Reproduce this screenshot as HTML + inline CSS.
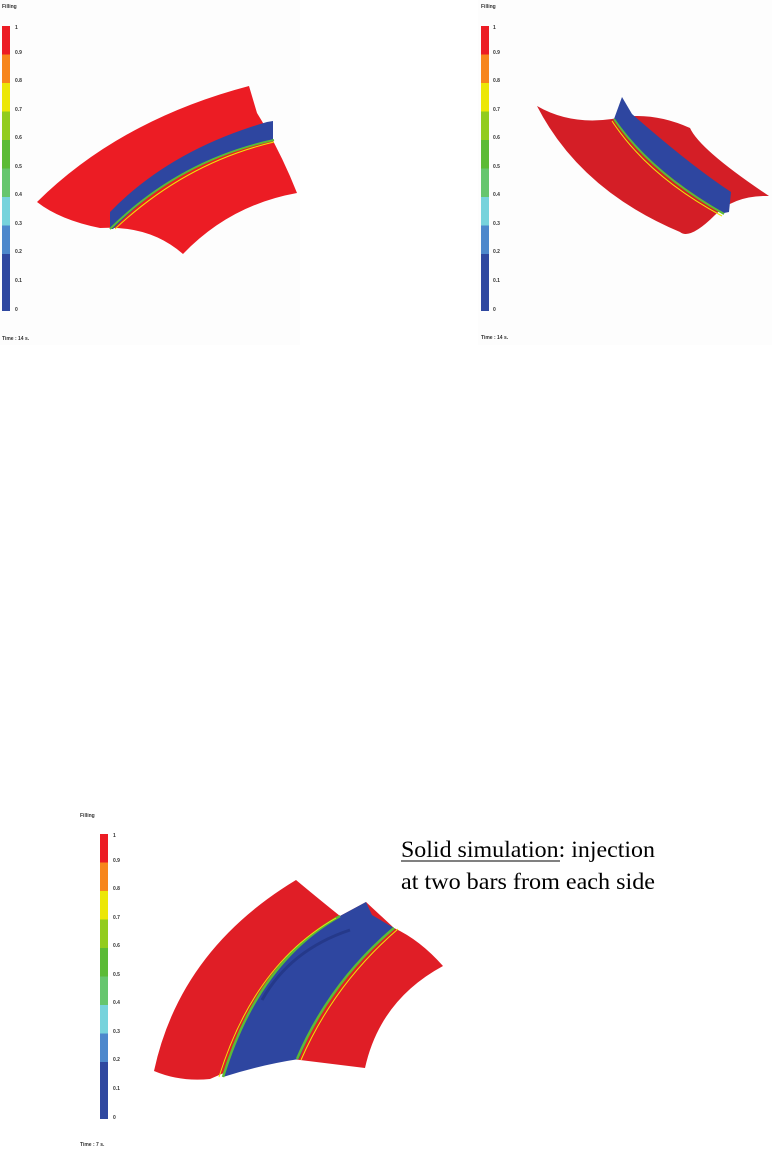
<!DOCTYPE html>
<html><head><meta charset="utf-8"><style>
html,body{margin:0;padding:0;background:#fff;}
svg{display:block;}
text{font-family:"Liberation Sans",sans-serif;font-weight:bold;fill:#333;}
.big{font-family:"Liberation Serif",serif;font-weight:normal;fill:#000;font-size:23px;}
</style></head><body>
<svg width="772" height="1149" viewBox="0 0 772 1149" xmlns="http://www.w3.org/2000/svg">
<defs>
<g id="leg">
<rect x="0" y="0" width="8" height="28.5" fill="#ec1c24"/>
<rect x="0" y="28.5" width="8" height="28.5" fill="#f7861c"/>
<rect x="0" y="57" width="8" height="28.5" fill="#ece707"/>
<rect x="0" y="85.5" width="8" height="28.5" fill="#92cc1e"/>
<rect x="0" y="114" width="8" height="28.5" fill="#5bbb36"/>
<rect x="0" y="142.5" width="8" height="28.5" fill="#66c66e"/>
<rect x="0" y="171" width="8" height="28.5" fill="#77d3dc"/>
<rect x="0" y="199.5" width="8" height="28.5" fill="#4d88cc"/>
<rect x="0" y="228" width="8" height="57" fill="#2f48a0"/>
</g>
</defs>
<!-- panel 1 -->
<rect x="0" y="0" width="300" height="345" fill="#fdfdfd"/>
<text x="2" y="8" font-size="5">Filling</text>
<use href="#leg" x="2" y="26"/>
<g font-size="5">
<text x="15" y="29">1</text><text x="15" y="54">0.9</text><text x="15" y="82">0.8</text><text x="15" y="111">0.7</text><text x="15" y="139">0.6</text><text x="15" y="168">0.5</text><text x="15" y="196">0.4</text><text x="15" y="225">0.3</text><text x="15" y="253">0.2</text><text x="15" y="282">0.1</text><text x="15" y="311">0</text>
<text x="2" y="340">Time : 14 s.</text>
</g>
<path d="M37,202 Q120,120 249,86 L257,113 Q280,150 297,193 Q230,205 183,254 Q150,225 100,228 Q60,220 37,202 Z" fill="#ec1c24"/>
<path d="M110,212 Q170,150 267,122 L273,121 L273,140 Q180,160 113,229 L110,229 Z" fill="#2e46a0"/>
<path d="M110,229 Q180,160 274,140" stroke="#5bbb36" stroke-width="2" fill="none"/>
<path d="M115,229 Q185,163 274,142" stroke="#ece707" stroke-width="1" fill="none"/>
<!-- panel 2 -->
<rect x="478" y="0" width="294" height="345" fill="#fdfdfd"/>
<text x="481" y="8" font-size="5">Filling</text>
<use href="#leg" x="481" y="26"/>
<g font-size="5">
<text x="493" y="29">1</text><text x="493" y="54">0.9</text><text x="493" y="82">0.8</text><text x="493" y="111">0.7</text><text x="493" y="139">0.6</text><text x="493" y="168">0.5</text><text x="493" y="196">0.4</text><text x="493" y="225">0.3</text><text x="493" y="253">0.2</text><text x="493" y="282">0.1</text><text x="493" y="311">0</text>
<text x="481" y="339">Time : 14 s.</text>
</g>
<path d="M537,106 Q570,125 612,119 Q650,110 690,128 Q700,150 769,196 Q735,195 715,215 Q690,240 680,232 Q580,190 537,106 Z" fill="#d41e26"/>
<path d="M614,119 L622,97 L632,114 Q690,165 731,192 L729,212 L724,213 Q650,170 614,119 Z" fill="#2e46a0"/>
<path d="M614,119 Q650,172 724,214" stroke="#5bbb36" stroke-width="2" fill="none"/>
<path d="M612,121 Q648,176 722,216" stroke="#ece707" stroke-width="1" fill="none"/>
<!-- panel 3 -->
<text x="80" y="817" font-size="5">Filling</text>
<use href="#leg" x="100" y="834"/>
<g font-size="5">
<text x="113" y="837">1</text><text x="113" y="862">0.9</text><text x="113" y="890">0.8</text><text x="113" y="919">0.7</text><text x="113" y="947">0.6</text><text x="113" y="976">0.5</text><text x="113" y="1004">0.4</text><text x="113" y="1033">0.3</text><text x="113" y="1061">0.2</text><text x="113" y="1090">0.1</text><text x="113" y="1119">0</text>
<text x="80" y="1146">Time : 7 s.</text>
</g>
<path d="M296,880 Q180,950 154,1071 Q180,1082 210,1079 Q250,1060 292,1059 L365,1068 Q380,1000 443,966 Q420,940 394,928 L366,902 L340,916 Q320,900 296,880 Z" fill="#e01e26"/>
<path d="M340,916 L366,902 L372,915 L394,928 Q330,980 299,1059 Q260,1065 223,1077 Q260,960 340,916 Z" fill="#2e46a0"/>
<path d="M340,916 Q258,962 223,1077" stroke="#5bbb36" stroke-width="2.5" fill="none"/>
<path d="M394,928 Q330,982 297,1059" stroke="#5bbb36" stroke-width="2.5" fill="none"/>
<path d="M336,918 Q254,964 219,1077" stroke="#ece707" stroke-width="1" fill="none"/>
<path d="M398,929 Q334,984 301,1060" stroke="#ece707" stroke-width="1" fill="none"/>
<path d="M262,1000 Q290,950 350,930" stroke="#25398a" stroke-width="3" fill="none"/>
<text class="big" x="401" y="857" textLength="254" lengthAdjust="spacingAndGlyphs">Solid simulation: injection</text>
<line x1="401" y1="861" x2="560" y2="861" stroke="#000" stroke-width="1"/>
<text class="big" x="401" y="889" textLength="254" lengthAdjust="spacingAndGlyphs">at two bars from each side</text>
</svg>
</body></html>
